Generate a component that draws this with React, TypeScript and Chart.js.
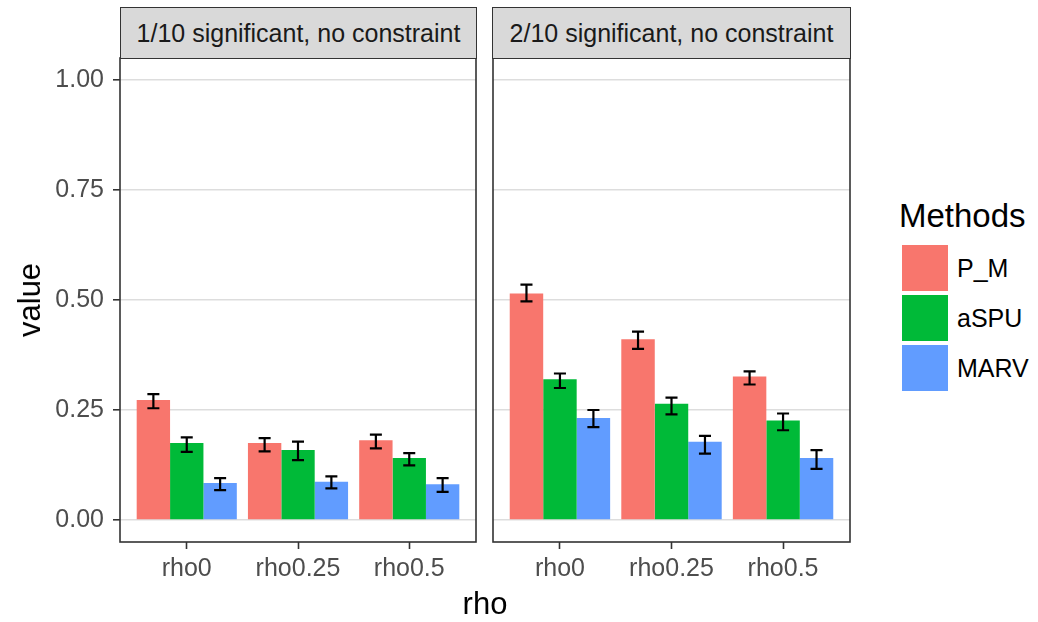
import React, { useEffect, useRef } from 'react';
import { Chart, registerables } from 'chart.js';
Chart.register(...registerables);

const categories = ['rho0', 'rho0.25', 'rho0.5'];
const methods = ['P_M', 'aSPU', 'MARV'];
const colors = ['#F8766D', '#00BA38', '#619CFF'];
const panelTitles = ['1/10 significant, no constraint', '2/10 significant, no constraint'];
const yTicks = [0, 0.25, 0.5, 0.75, 1.0];

// Panel 1: 1/10 significant
const p1PM = [0.273, 0.175, 0.181];
const p1PMLo = [0.254, 0.156, 0.163];
const p1PMHi = [0.286, 0.186, 0.194];
const p1aSPU = [0.175, 0.159, 0.141];
const p1aSPULo = [0.155, 0.136, 0.124];
const p1aSPUHi = [0.188, 0.178, 0.152];
const p1MARV = [0.084, 0.087, 0.081];
const p1MARVLo = [0.068, 0.072, 0.064];
const p1MARVHi = [0.095, 0.099, 0.095];

// Panel 2: 2/10 significant
const p2PM = [0.515, 0.411, 0.326];
const p2PMLo = [0.497, 0.389, 0.308];
const p2PMHi = [0.535, 0.428, 0.338];
const p2aSPU = [0.320, 0.264, 0.226];
const p2aSPULo = [0.300, 0.240, 0.204];
const p2aSPUHi = [0.333, 0.278, 0.242];
const p2MARV = [0.232, 0.178, 0.141];
const p2MARVLo = [0.211, 0.151, 0.116];
const p2MARVHi = [0.250, 0.191, 0.159];

const panelValues = [
  [p1PM, p1aSPU, p1MARV],
  [p2PM, p2aSPU, p2MARV],
];
const panelLo = [
  [p1PMLo, p1aSPULo, p1MARVLo],
  [p2PMLo, p2aSPULo, p2MARVLo],
];
const panelHi = [
  [p1PMHi, p1aSPUHi, p1MARVHi],
  [p2PMHi, p2aSPUHi, p2MARVHi],
];

const FONT = '"Liberation Sans", Arial, Helvetica, sans-serif';

const errorBarPlugin = {
  id: 'errbars',
  afterDatasetsDraw(chart: any) {
    const ctx = chart.ctx;
    const y = chart.scales.y;
    chart.data.datasets.forEach((ds: any, i: number) => {
      const meta = chart.getDatasetMeta(i);
      meta.data.forEach((bar: any, j: number) => {
        const yl = y.getPixelForValue(ds.errLo[j]);
        const yh = y.getPixelForValue(ds.errHi[j]);
        const half = bar.width * 0.18;
        ctx.save();
        ctx.strokeStyle = '#000';
        ctx.lineWidth = 2.2;
        ctx.beginPath();
        ctx.moveTo(bar.x, yl);
        ctx.lineTo(bar.x, yh);
        ctx.moveTo(bar.x - half, yl);
        ctx.lineTo(bar.x + half, yl);
        ctx.moveTo(bar.x - half, yh);
        ctx.lineTo(bar.x + half, yh);
        ctx.stroke();
        ctx.restore();
      });
    });
  },
};

const borderPlugin = {
  id: 'panelborder',
  afterDraw(chart: any) {
    const { left, top, right, bottom } = chart.chartArea;
    const ctx = chart.ctx;
    ctx.save();
    ctx.strokeStyle = '#333333';
    ctx.lineWidth = 1.6;
    ctx.strokeRect(left, top, right - left, bottom - top);
    ctx.restore();
  },
};

function Panel({ idx, left, width, height, showY, padLeft, padRight }: any) {
  const ref = useRef<HTMLCanvasElement>(null);
  useEffect(() => {
    const datasets = methods.map((m, i) => ({
      label: m,
      data: categories.map((c, j) => ({ x: j + 1, y: panelValues[idx][i][j] })),
      errLo: panelLo[idx][i],
      errHi: panelHi[idx][i],
      backgroundColor: colors[i],
      borderWidth: 0,
      categoryPercentage: 0.9,
      barPercentage: 1.0,
    }));
    const chart = new Chart(ref.current as HTMLCanvasElement, {
      type: 'bar',
      data: { datasets } as any,
      plugins: [errorBarPlugin, borderPlugin],
      options: {
        animation: false,
        responsive: false,
        devicePixelRatio: 1,
        layout: { padding: { top: 58, bottom: 8, left: padLeft, right: padRight } },
        plugins: { legend: { display: false }, tooltip: { enabled: false } },
        scales: {
          x: {
            type: 'linear',
            min: 0.4,
            max: 3.6,
            offset: false,
            afterBuildTicks: (s: any) => {
              s.ticks = categories.map((c, j) => ({ value: j + 1 }));
            },
            afterFit: (s: any) => {
              s.height = 50;
            },
            ticks: {
              callback: (v: any) => categories[Math.round(v) - 1],
              font: { family: FONT, size: 25 },
              color: '#4D4D4D',
              padding: 5,
              maxRotation: 0,
              autoSkip: false,
            },
            grid: {
              offset: false,
              drawOnChartArea: false,
              drawTicks: true,
              tickLength: 7,
              tickColor: '#333333',
              tickWidth: 1.6,
            },
            border: { display: false },
          },
          y: {
            type: 'linear',
            min: -0.05,
            max: 1.05,
            afterBuildTicks: (s: any) => {
              s.ticks = yTicks.map((v) => ({ value: v }));
            },
            afterFit: (s: any) => {
              s.width = showY ? 120 : 0;
            },
            ticks: {
              display: showY,
              callback: (v: any) => Number(v).toFixed(2),
              font: { family: FONT, size: 25 },
              color: '#4D4D4D',
              padding: 9,
            },
            grid: {
              color: '#DDDDDD',
              lineWidth: 1.6,
              drawTicks: showY,
              tickLength: 7,
              tickColor: '#333333',
              tickWidth: 1.6,
            },
            border: { display: false },
          },
        },
      } as any,
    });
    return () => chart.destroy();
  }, []);
  return (
    <canvas
      ref={ref}
      width={width}
      height={height}
      style={{ position: 'absolute', left, top: 0, width, height }}
    />
  );
}

function Strip({ left, width, text }: any) {
  return (
    <div
      style={{
        position: 'absolute',
        left,
        top: 7,
        width,
        height: 52,
        boxSizing: 'border-box',
        background: '#D9D9D9',
        border: '1.6px solid #333333',
        fontFamily: FONT,
        fontSize: 25,
        color: '#1A1A1A',
        display: 'flex',
        alignItems: 'center',
        justifyContent: 'center',
        whiteSpace: 'nowrap',
      }}
    >
      {text}
    </div>
  );
}

export default function App() {
  return (
    <div
      style={{
        position: 'fixed',
        left: 0,
        top: 0,
        width: 1038,
        height: 622,
        background: '#fff',
        overflow: 'hidden',
        fontFamily: FONT,
      }}
    >
      <Panel idx={0} left={0} width={490} height={600} showY={true} padLeft={0} padRight={14} />
      <Panel idx={1} left={480} width={380} height={600} showY={false} padLeft={13} padRight={10} />
      <Strip left={120} width={357} text={panelTitles[0]} />
      <Strip left={492} width={359} text={panelTitles[1]} />
      <div
        style={{
          position: 'absolute',
          left: 30,
          top: 300,
          transform: 'translate(-50%, -50%) rotate(-90deg)',
          fontSize: 31,
          color: '#000',
          whiteSpace: 'nowrap',
        }}
      >
        value
      </div>
      <div
        style={{
          position: 'absolute',
          left: 485,
          top: 604,
          transform: 'translate(-50%, -50%)',
          fontSize: 31,
          color: '#000',
        }}
      >
        rho
      </div>
      <div style={{ position: 'absolute', left: 899, top: 197, fontSize: 33, color: '#000' }}>Methods</div>
      {methods.map((m, i) => (
        <div key={m}>
          <div
            style={{
              position: 'absolute',
              left: 902,
              top: 245 + i * 50,
              width: 46,
              height: 46,
              background: colors[i],
            }}
          />
          <div
            style={{
              position: 'absolute',
              left: 957,
              top: 245 + i * 50 + 23,
              transform: 'translateY(-50%)',
              fontSize: 25,
              color: '#000',
            }}
          >
            {m}
          </div>
        </div>
      ))}
    </div>
  );
}
